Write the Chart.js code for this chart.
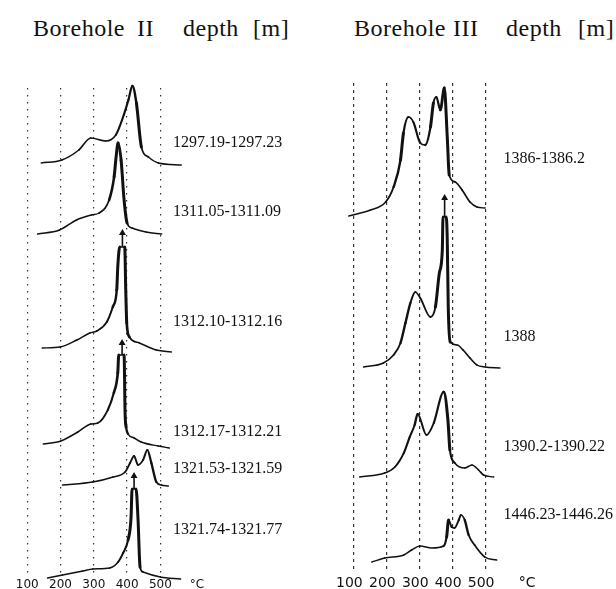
<!DOCTYPE html>
<html>
<head>
<meta charset="utf-8">
<script src="https://cdn.jsdelivr.net/npm/chart.js@4.4.1/dist/chart.umd.min.js"></script>
<style>
body{margin:0;background:#fff;}
#wrap{position:relative;width:616px;height:589px;overflow:hidden;background:#fff;}
canvas{position:absolute;top:0;}
.t{position:absolute;top:15px;font:24px "Liberation Serif",serif;color:#111;white-space:nowrap;letter-spacing:0.5px;}
</style>
</head>
<body>
<div id="wrap">
  <span class="t" style="left:33px">Borehole</span>
  <span class="t" style="left:137px">II</span>
  <span class="t" style="left:183px">depth</span>
  <span class="t" style="left:253px">[m]</span>
  <span class="t" style="left:354px">Borehole</span>
  <span class="t" style="left:453px">III</span>
  <span class="t" style="left:506px">depth</span>
  <span class="t" style="left:578px">[m]</span>
  <canvas id="left" width="300" height="589" style="left:0"></canvas>
  <canvas id="right" width="316" height="589" style="left:300px"></canvas>
</div>
<script>
// x axis ticks (temperature, °C)
const tickValues = [100, 200, 300, 400, 500];
const unitLabel = '°C';

// Borehole II - temperature (°C) and signal
const depthsII = ['1297.19-1297.23', '1311.05-1311.09', '1312.10-1312.16',
                  '1312.17-1312.21', '1321.53-1321.59', '1321.74-1321.77'];
const t1297 = [142, 204, 255, 291, 336, 366, 390, 404, 416, 428, 443, 464, 494, 563];
const s1297 = [1, 4, 14, 26, 23, 29, 49, 64, 78, 61, 17, 7, 1, -1];
const t1311 = [131, 197, 248, 293, 316, 346, 361, 367, 373, 382, 391, 400, 415, 457, 504];
const s1311 = [0, 4, 14, 19, 21, 34, 57, 77, 91, 74, 34, 11, 6, 2, 0];
const t1312a = [145, 199, 249, 288, 309, 339, 357, 369, 372, 378, 393, 396, 399, 407, 437, 488, 533];
const s1312a = [2, 3, 10, 17, 19, 28, 43, 60, 83, 103, 103, 60, 27, 13, 7, 0, -2];
const t1312b = [148, 201, 252, 291, 312, 342, 360, 372, 375, 391, 394, 397, 403, 421, 442, 494, 527];
const s1312b = [2, 5, 14, 22, 23, 36, 53, 73, 91, 91, 33, 19, 12, 8, 4, 0, -2];
const t1321a = [206, 297, 358, 394, 409, 421, 433, 448, 461, 473, 488, 503, 524];
const s1321a = [0, 3, 8, 13, 22, 29, 20, 25, 35, 22, 3, 0, -1];
const t1321b = [161, 206, 267, 297, 348, 373, 388, 403, 412, 415, 427, 433, 439, 448, 500, 561];
const s1321b = [1, 4, 8, 10, 11, 17, 26, 39, 62, 90, 90, 59, 12, 7, 2, 0];

// Borehole III
const depthsIII = ['1386-1386.2', '1388', '1390.2-1390.22', '1446.23-1446.26'];
const t1386 = [86, 152, 198, 222, 243, 252, 267, 282, 303, 318, 334, 343, 352, 364, 376, 385, 391, 409, 430, 454, 475, 500];
const s1386 = [-4, 2, 10, 25, 52, 79, 95, 90, 69, 67, 85, 109, 115, 102, 124, 75, 37, 30, 22, 10, 5, 4];
const t1388 = [131, 191, 222, 243, 258, 273, 288, 303, 334, 349, 361, 370, 372, 382, 385, 388, 394, 415, 433, 454, 475, 500, 545];
const s1388 = [0, 4, 12, 24, 44, 64, 75, 69, 50, 60, 94, 117, 150, 150, 127, 60, 25, 22, 17, 9, 2, 0, -1];
const t1390 = [119, 195, 226, 253, 271, 286, 295, 322, 344, 374, 387, 393, 408, 438, 460, 480, 495, 526];
const s1390 = [0, 4, 10, 24, 40, 52, 63, 42, 54, 85, 57, 27, 14, 9, 12, 7, 2, 0];
const t1446 = [156, 195, 253, 277, 302, 338, 374, 383, 389, 398, 407, 420, 426, 438, 450, 468, 499, 535];
const s1446 = [-1, 3, 6, 11, 15, 13, 15, 24, 41, 34, 33, 41, 46, 41, 26, 16, 4, 1];

// off-scale peaks: arrow temperature, peak top, arrow tip
const arrowT = [386, 385, 421, 377];
const arrowFrom = [103, 91, 90, 150];
const arrowTo = [117, 103, 103, 169];

// ---- layout: vertical offset of each trace and lift of its label ----
const offII = [412, 342, 226, 130, 91, -3];
const liftII = [17, 18, 24, 10, 12, 45];
const offIII = [358, 203, 93, 9];
const liftIII = [49, 26, 26, 42];

function penWidth(ctx) {
  const dx = Math.abs(ctx.p1.x - ctx.p0.x), dy = Math.abs(ctx.p1.y - ctx.p0.y);
  return 1.4 + Math.min(1.6, dy / (dx + 0.01) * 0.25);
}

function curve(temps, sig, base) {
  return {
    data: temps.map((t, i) => ({x: t, y: sig[i] + base})),
    borderColor: '#111', pointRadius: 0, fill: false, clip: false,
    cubicInterpolationMode: 'monotone',
    borderCapStyle: 'round', borderJoinStyle: 'round',
    segment: {borderWidth: penWidth}
  };
}

function arrow(i, base) {
  return {
    data: [{x: arrowT[i], y: arrowFrom[i] + base}, {x: arrowT[i], y: arrowTo[i] + base}],
    borderColor: '#111', borderWidth: 1.6, clip: false,
    pointRadius: [0, 4], pointStyle: 'triangle',
    pointBackgroundColor: '#111', pointBorderColor: '#111', pointBorderWidth: 0
  };
}

function labelPlugin(texts, xAt, offs, lifts) {
  return {
    id: 'depthLabels',
    afterDatasetsDraw(chart) {
      const {ctx, scales: {x, y}} = chart;
      ctx.save();
      ctx.font = '16px "Liberation Serif", serif';
      ctx.fillStyle = '#111';
      ctx.textBaseline = 'alphabetic';
      texts.forEach((t, i) => ctx.fillText(t, x.getPixelForValue(xAt), y.getPixelForValue(offs[i] + lifts[i])));
      ctx.restore();
    }
  };
}

function xAxis(min, max, unitAt, fontSize, pad, h, dash, shift) {
  return {
    type: 'linear', min, max,
    afterBuildTicks: s => { s.ticks = tickValues.concat([unitAt]).map(v => ({value: v})); },
    afterFit: s => { s.height = h; },
    ticks: {
      autoSkip: false, maxRotation: 0, color: '#111', padding: pad, labelOffset: shift,
      font: {family: '"DejaVu Sans", sans-serif', size: fontSize},
      callback: v => v === unitAt ? unitLabel : String(v)
    },
    grid: {
      drawTicks: false, lineWidth: 1.2,
      color: c => (c.tick && c.tick.value > 500) ? 'rgba(0,0,0,0)' : '#333'
    },
    border: {display: false, dash}
  };
}

function makeChart(id, datasets, padding, x, ymax, plugin) {
  return new Chart(document.getElementById(id), {
    type: 'line',
    data: {datasets},
    plugins: [plugin],
    options: {
      responsive: false, animation: false, events: [],
      layout: {padding},
      plugins: {legend: {display: false}, tooltip: {enabled: false}},
      scales: {x, y: {display: false, min: 0, max: ymax}}
    }
  });
}

const setsII = [
  curve(t1297, s1297, offII[0]), curve(t1311, s1311, offII[1]),
  curve(t1312a, s1312a, offII[2]), curve(t1312b, s1312b, offII[3]),
  curve(t1321a, s1321a, offII[4]), curve(t1321b, s1321b, offII[5]),
  arrow(0, offII[2]), arrow(1, offII[3]), arrow(2, offII[5])
];
makeChart('left', setsII, {left: 3.7, right: 6.6, top: 88, bottom: 0},
  xAxis(30, 900, 610, 12, 2, 13, [1.6, 5.4], 0), 488,
  labelPlugin(depthsII, 538, offII, liftII));

const setsIII = [
  curve(t1386, s1386, offIII[0]), curve(t1388, s1388, offIII[1]),
  curve(t1390, s1390, offIII[2]), curve(t1446, s1446, offIII[3]),
  arrow(3, offIII[1])
];
makeChart('right', setsIII, {left: 2.3, right: 15.6, top: 83, bottom: 0},
  xAxis(-50, 850, 640, 14, 5, 19, [3, 4], -4), 487,
  labelPlugin(depthsIII, 556, offIII, liftIII));
</script>
</body>
</html>
